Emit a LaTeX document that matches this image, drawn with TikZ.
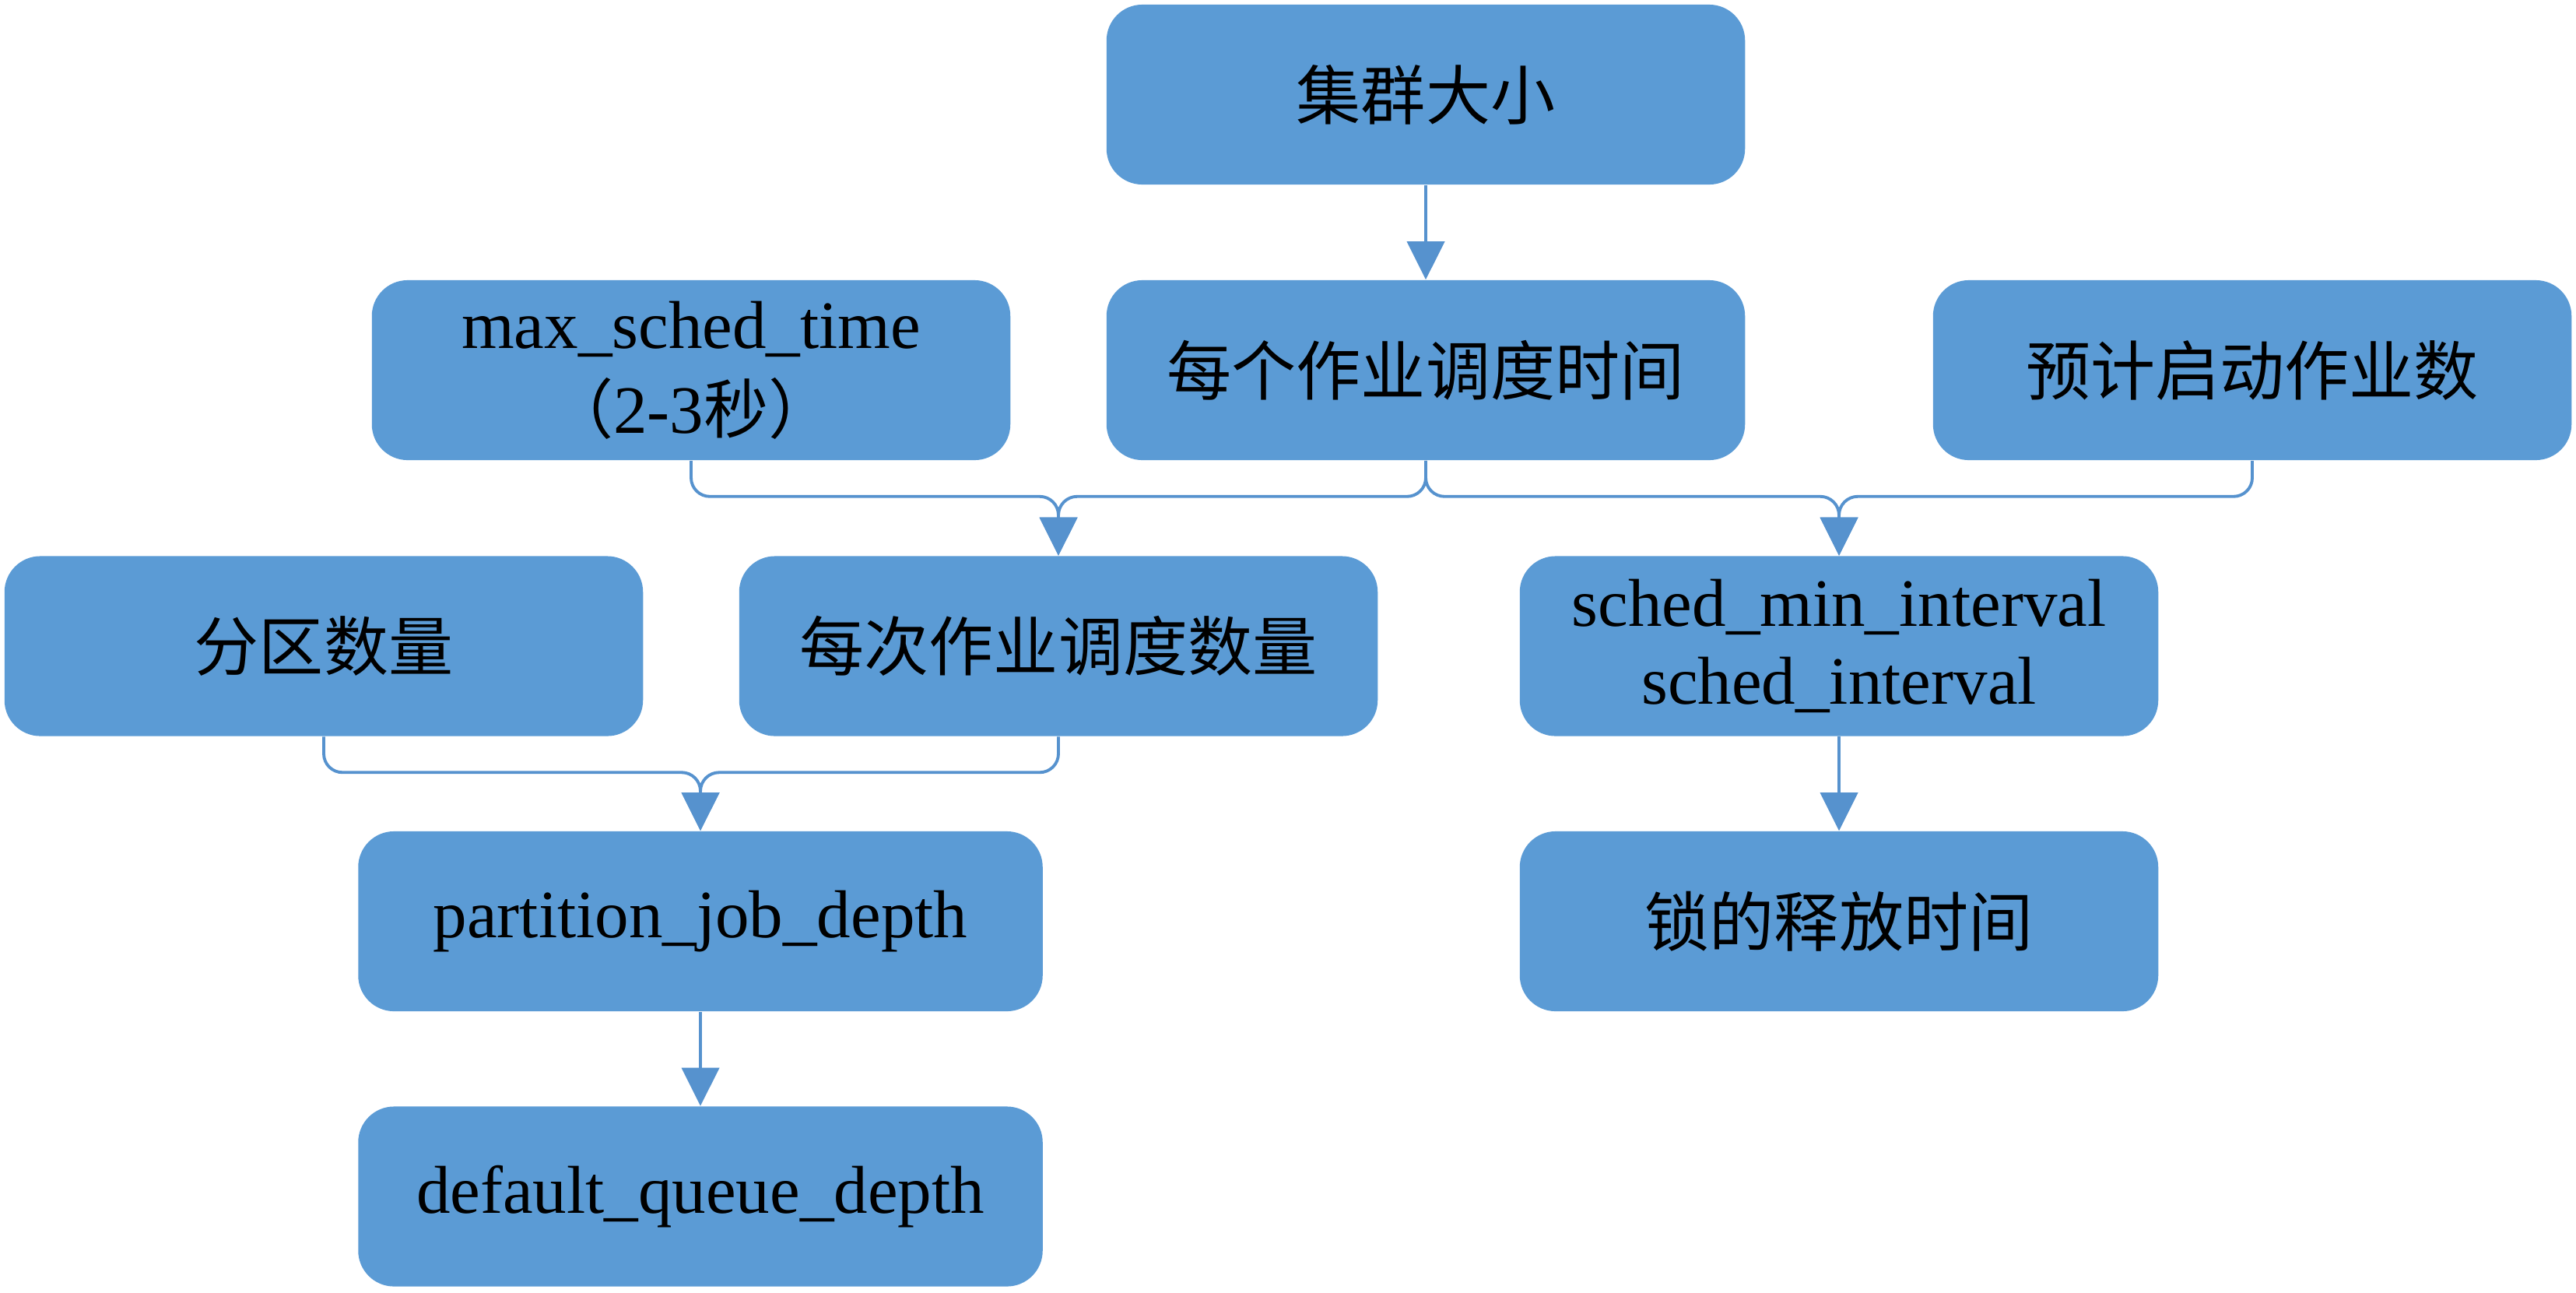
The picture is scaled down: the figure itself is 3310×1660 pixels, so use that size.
\documentclass[tikz,border=0pt]{standalone}
\usepackage{fontspec}
\setmainfont{Liberation Serif}
\newfontfamily\cjk[Scale=0.955]{Noto Sans CJK SC}
\usetikzlibrary{arrows.meta}
\definecolor{boxblue}{RGB}{91,155,213}
\definecolor{lineblue}{RGB}{86,146,206}
\begin{document}
\begin{tikzpicture}[x=0.01cm,y=-0.01cm,
  box/.style={fill=boxblue, rounded corners=0.46cm, minimum width=8.2cm, minimum height=2.31cm, inner sep=0pt, align=center, font=\fontsize{24.75pt}{28.45pt}\selectfont, text=black},
  wide/.style={box, minimum width=8.79cm},
  conn/.style={draw=lineblue, line width=1.1pt, rounded corners=0.24cm, -{Triangle[width=0.48cm,length=0.49cm]}},
]
\useasboundingbox (0,0) rectangle (3310,1660);
\node[box] (size) at (1832,121.5) {\cjk 集群大小};
\node[box] (pertime) at (1832,475.5) {\cjk 每个作业调度时间};
\node[box] (maxt) at (888,475.5) {max\_sched\_time\\[0.09cm]{\cjk （}2-3{\cjk 秒）}};
\node[box] (est) at (2894,475.5) {\cjk 预计启动作业数};
\node[box] (part) at (416,830) {\cjk 分区数量};
\node[box] (percnt) at (1360,830) {\cjk 每次作业调度数量};
\node[box] (sched) at (2363,830) {sched\_min\_interval\\sched\_interval};
\node[wide] (pjd) at (900,1183.5) {partition\_job\_depth};
\node[box] (lock) at (2363,1183.5) {\cjk 锁的释放时间};
\node[wide] (dqd) at (900,1537) {default\_queue\_depth};
\draw[conn] (size) -- (pertime);
\draw[conn] (maxt.south) -- ++(0,46) -| (percnt.north);
\draw[conn] (pertime.south) -- ++(0,46) -| (percnt.north);
\draw[conn] (pertime.south) -- ++(0,46) -| (sched.north);
\draw[conn] (est.south) -- ++(0,46) -| (sched.north);
\draw[conn] (part.south) -- ++(0,46) -| (pjd.north);
\draw[conn] (percnt.south) -- ++(0,46) -| (pjd.north);
\draw[conn] (pjd) -- (dqd);
\draw[conn] (sched) -- (lock);
\end{tikzpicture}
\end{document}
